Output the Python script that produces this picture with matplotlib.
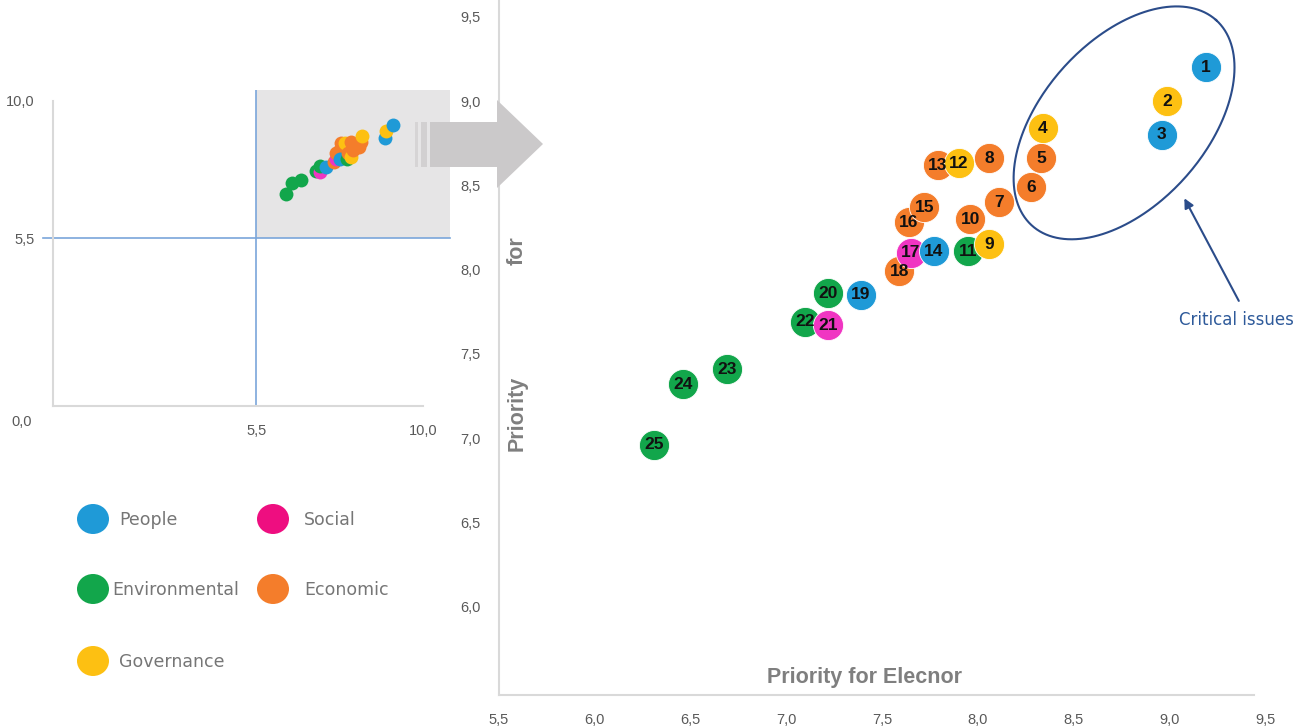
import numpy as np
import matplotlib
matplotlib.use("Agg")
import matplotlib.pyplot as plt
from matplotlib.patches import Polygon, Rectangle, Ellipse

# ==============================================================================
# DATA
# ==============================================================================
issue_ids = list(range(1, 26))
priority_elecnor = [9.19, 8.99, 8.96, 8.34, 8.33, 8.28, 8.11, 8.06, 8.06, 7.96,
                    7.95, 7.90, 7.79, 7.77, 7.72, 7.64, 7.65, 7.59, 7.39, 7.22,
                    7.22, 7.10, 6.69, 6.46, 6.31]
priority_stakeholders = [9.20, 9.00, 8.80, 8.84, 8.66, 8.49, 8.40, 8.66, 8.15, 8.30,
                         8.11, 8.63, 8.62, 8.11, 8.37, 8.28, 8.10, 7.99, 7.85, 7.86,
                         7.67, 7.69, 7.41, 7.32, 6.96]
issue_group = ['People', 'Governance', 'People', 'Governance', 'Economic',
               'Economic', 'Economic', 'Economic', 'Governance', 'Economic',
               'Environmental', 'Governance', 'Economic', 'People', 'Economic',
               'Economic', 'Social', 'Economic', 'People', 'Environmental',
               'Social', 'Environmental', 'Environmental', 'Environmental', 'Environmental']

group_colors = {
    'People': '#1F9AD7',
    'Social': '#F035C2',
    'Environmental': '#12A64B',
    'Economic': '#F47D2B',
    'Governance': '#FDC012',
}
legend_colors = {'People': '#1F9AD7', 'Social': '#EE0E80', 'Environmental': '#12A64B',
                 'Economic': '#F47D2B', 'Governance': '#FDC012'}

main_yticks = [6.0, 6.5, 7.0, 7.5, 8.0, 8.5, 9.0, 9.5]
main_xticks = [5.5, 6.0, 6.5, 7.0, 7.5, 8.0, 8.5, 9.0, 9.5]
inset_ticks = [5.5, 10.0]

W, H = 1316, 727
GREY_TXT = '#595959'
AXIS_GREY = '#D9D9D9'
NAVY = '#2B4C8A'
NARROW = ['Liberation Sans Narrow', 'Liberation Sans']


def fmt(v):
    return f"{v:.1f}".replace('.', ',')


def px_box(l, t, r, b):
    return [l / W, 1 - b / H, (r - l) / W, (b - t) / H]


fig = plt.figure(figsize=(W / 100, H / 100), dpi=100)

# ==============================================================================
# MAIN CHART
# ==============================================================================
ax = fig.add_axes(px_box(499, 0, 1265, 695))
ax.set_xlim(5.5, 9.5)
ax.set_ylim(5.476, 9.60)
for s in ['top', 'right']:
    ax.spines[s].set_visible(False)
for s in ['left', 'bottom']:
    ax.spines[s].set_color(AXIS_GREY)
    ax.spines[s].set_linewidth(1.5)
ax.spines['bottom'].set_bounds(5.5, 9.44)
ax.set_xticks(main_xticks)
ax.set_xticklabels([fmt(v) for v in main_xticks])
ax.set_yticks(main_yticks)
ax.set_yticklabels([fmt(v) for v in main_yticks])
ax.tick_params(length=0, labelsize=10.5, labelcolor=GREY_TXT, pad=13)
for lab in ax.get_xticklabels() + ax.get_yticklabels():
    lab.set_family(NARROW)

# draw from 25 down to 1 so lower numbers sit on top
order = np.argsort(issue_ids)[::-1]
for k, i in enumerate(order):
    ax.scatter(priority_elecnor[i], priority_stakeholders[i], s=470,
               color=group_colors[issue_group[i]], edgecolor='white',
               linewidth=0.6, zorder=3 + k * 0.01)
for i in order:
    ax.text(priority_elecnor[i], priority_stakeholders[i], str(issue_ids[i]),
            ha='center', va='center', fontsize=12.5, fontweight='bold',
            color='#111111', zorder=5, family=NARROW)

ax.text(7.41, 5.58, 'Priority for Elecnor', ha='center', va='center',
        fontsize=15.5, fontweight='bold', color='#7F7F7F', family=NARROW)
ax.text(5.595, 7.15, 'Priority', rotation=90, ha='center', va='center',
        fontsize=15.5, fontweight='bold', color='#7F7F7F', family=NARROW)
ax.text(5.595, 8.11, 'for', rotation=90, ha='center', va='center',
        fontsize=15.5, fontweight='bold', color='#7F7F7F', family=NARROW)

# "critical issues" ellipse (defined in pixel lengths, converted to data units)
ell_cx, ell_cy = 8.764, 8.871
ell_a, ell_b, ell_ang = 138, 82, np.deg2rad(48.2)
px_per_x, px_per_y = 191.5, 168.6
t = np.linspace(0, 2 * np.pi, 300)
dx = ell_a * np.cos(t) * np.cos(ell_ang) - ell_b * np.sin(t) * np.sin(ell_ang)
dy = ell_a * np.cos(t) * np.sin(ell_ang) + ell_b * np.sin(t) * np.cos(ell_ang)
ax.plot(ell_cx + dx / px_per_x, ell_cy + dy / px_per_y, color=NAVY, lw=1.5,
        zorder=6, clip_on=False)

ax.annotate('', xy=(9.072, 8.438), xytext=(9.37, 7.80),
            arrowprops=dict(arrowstyle='-|>', color=NAVY, lw=1.5, mutation_scale=14),
            zorder=6)
ax.text(9.35, 7.70, 'Critical issues', ha='center', va='center', fontsize=12,
        color='#2E5A9A', zorder=6)

# ==============================================================================
# INSET OVERVIEW
# ==============================================================================
ins = fig.add_axes(px_box(53, 90, 450, 406))
ins.set_xlim(0, 10.73)
ins.set_ylim(0, 10.36)
ins.patch.set_alpha(0)
for s in ['top', 'right']:
    ins.spines[s].set_visible(False)
for s in ['left', 'bottom']:
    ins.spines[s].set_color(AXIS_GREY)
    ins.spines[s].set_linewidth(1.5)
ins.spines['left'].set_bounds(0, 10)
ins.spines['bottom'].set_bounds(0, 10)
ins.add_patch(Rectangle((5.5, 5.5), 10.73 - 5.5, 10.36 - 5.5,
                        color='#E6E5E6', zorder=0, lw=0))
ins.plot([5.5, 5.5], [0, 10.36], color='#7AA6DA', lw=1.2, zorder=1)
ins.plot([-0.27, 10.73], [5.5, 5.5], color='#7AA6DA', lw=1.2, zorder=1, clip_on=False)
ins.set_xticks(inset_ticks)
ins.set_xticklabels([fmt(v) for v in inset_ticks])
ins.set_yticks(inset_ticks)
ins.set_yticklabels([fmt(v) for v in inset_ticks])
ins.tick_params(length=0, labelsize=10.5, labelcolor=GREY_TXT, pad=13)
for lab in ins.get_xticklabels() + ins.get_yticklabels():
    lab.set_family(NARROW)
ins.text(-0.85, -0.52, fmt(0.0), ha='center', va='center', fontsize=10.5,
         color=GREY_TXT, family=NARROW, clip_on=False)
for i in order:
    ins.scatter(priority_elecnor[i], priority_stakeholders[i], s=100,
                color=group_colors[issue_group[i]], lw=0, zorder=3)

# ==============================================================================
# OVERLAY: zoom arrow + legend
# ==============================================================================
ov = fig.add_axes([0, 0, 1, 1])
ov.set_xlim(0, W)
ov.set_ylim(H, 0)
ov.axis('off')
ov.patch.set_alpha(0)

ov.add_patch(Polygon([(430, 122), (497, 122), (497, 100), (543, 144),
                      (497, 188), (497, 167), (430, 167)],
                     closed=True, color='#CBC9CA', lw=0))
ov.add_patch(Rectangle((415, 122), 3, 45, color='#D6D4D5', lw=0))
ov.add_patch(Rectangle((421, 122), 6, 45, color='#D2D0D1', lw=0))

legend_items = [('People', 93, 519, 119), ('Social', 273, 519, 304),
                ('Environmental', 93, 589, 112), ('Economic', 273, 589, 304),
                ('Governance', 93, 661, 119)]
for name, cx, cy, tx in legend_items:
    ov.add_patch(Ellipse((cx, cy), 32, 30, color=legend_colors[name], lw=0))
    ov.text(tx, cy + 1, name, ha='left', va='center', fontsize=12.5, color='#767676')

fig.savefig('out.png', dpi=100)
